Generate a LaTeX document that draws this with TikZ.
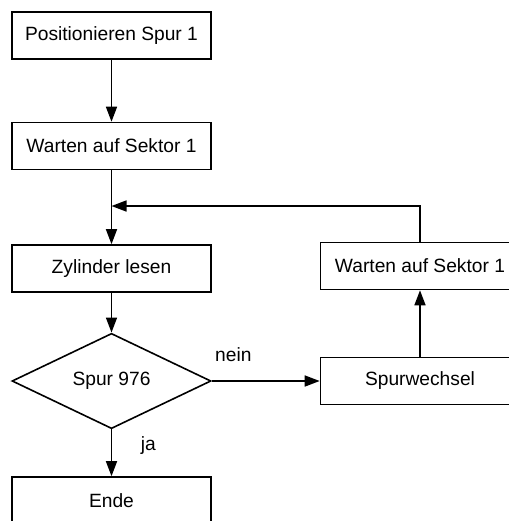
\documentclass[tikz,border=0pt]{standalone}
\usepackage{fontspec}
\setmainfont{Liberation Sans}
\usetikzlibrary{shapes.geometric,arrows.meta}
\begin{document}
\begin{tikzpicture}[x=0.5pt,y=-0.5pt,line width=0.8pt,font=\fontsize{9.6}{11}\selectfont,>={Triangle[length=7.5pt,width=5.5pt]},box/.style={rectangle,draw,minimum width=99.5pt,minimum height=23.5pt,inner sep=0pt},test/.style={diamond,draw,minimum width=99.5pt,minimum height=46pt,inner sep=0pt}]%
\useasboundingbox (0,0) rectangle (509,521);
\clip (0,0) rectangle (509,521);
\begin{scope}
\node[box] (pos) at (111.5,35.5) {Positionieren Spur 1};%1
\node[box] (wait1) at (111.5,146) {Warten auf Sektor 1};%2
\node[box] (read) at (111.5,268.5) {Zylinder lesen};%3
\node[test] (track) at (111.5,381) {Spur 976};%4
\node[box] (end) at (111.5,500.5) {Ende};%5
\node[box] (wait2) at (420,266) {Warten auf Sektor 1};%6
\node[box] (change) at (420,381) {Spurwechsel};%7
\coordinate (join) at (111.5,206);
\end{scope}
\begin{scope}[every edge/.style={draw=black,line width=0.8pt,->}]
\draw  (pos) edge (wait1);
\draw  (wait1) edge (read);
\draw  (read) edge (track);
\draw  (track) edge node[pos=.34,right=11pt]{ja} (end);
\draw  (track) edge node[pos=.2,above=6pt]{nein} (change);
\draw  (change) edge (wait2);
\draw[->]  (wait2) |- (join);
\end{scope}
\end{tikzpicture}
\end{document}
